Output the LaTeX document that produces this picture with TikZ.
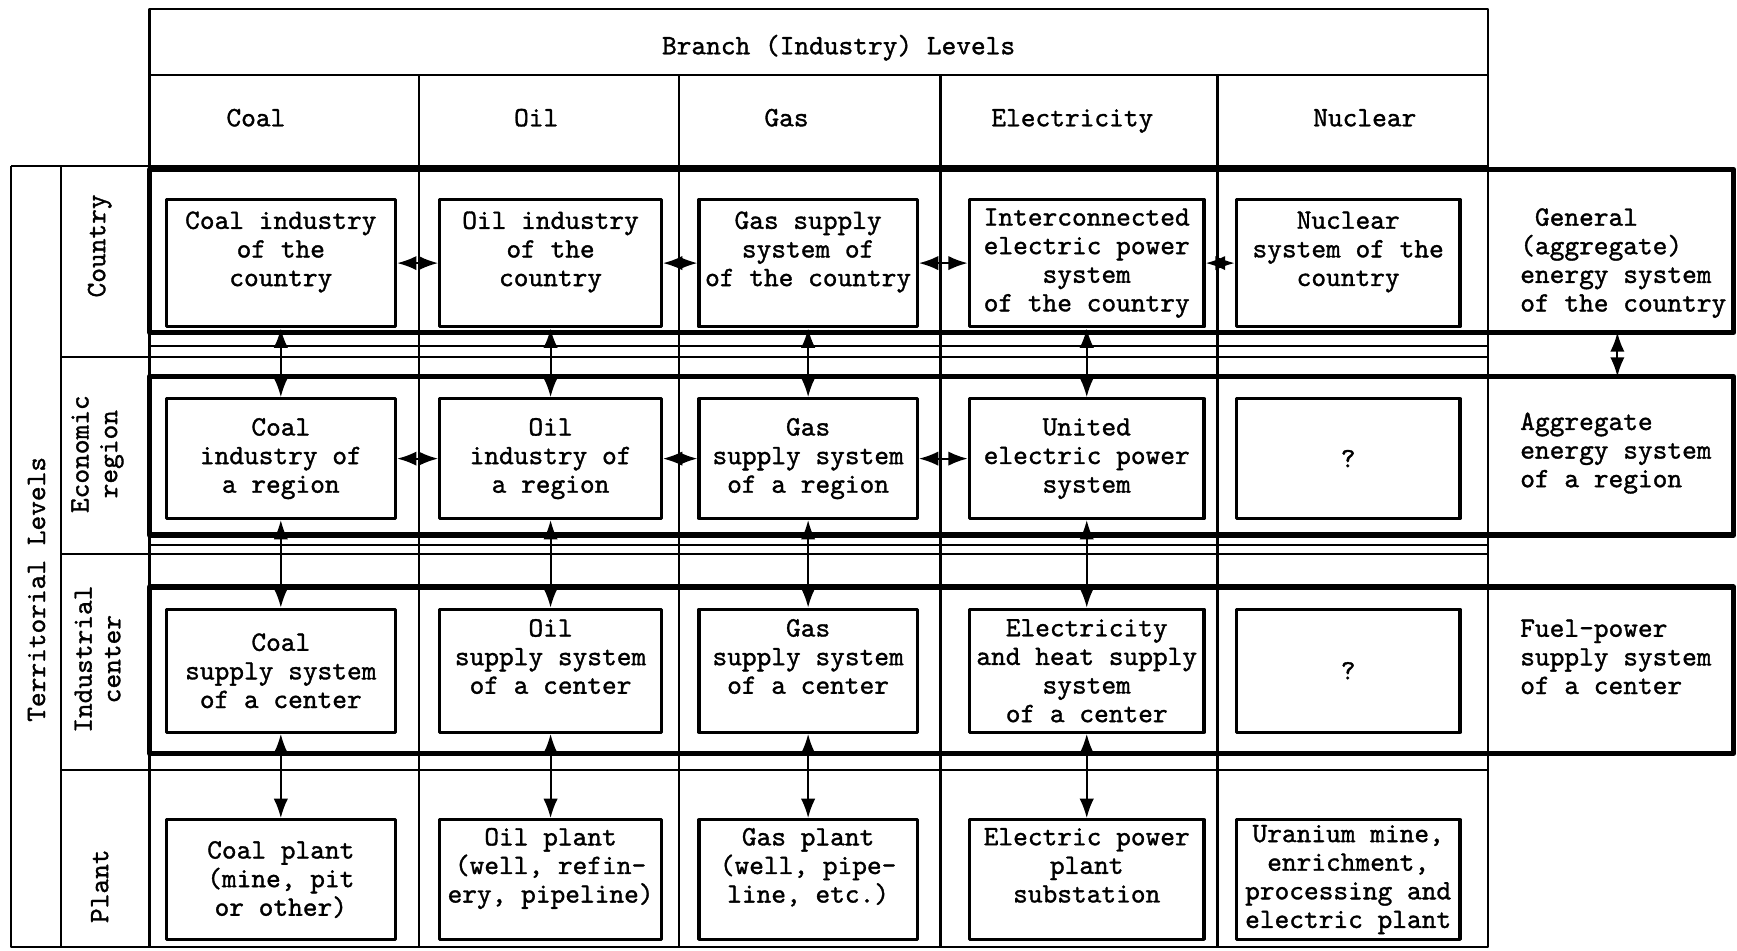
\documentclass[tikz,border=0pt]{standalone}
\usepackage{fontspec}
\setmonofont{lmmono10-regular.otf}[AutoFakeBold=1.2]
\usetikzlibrary{arrows.meta}
\begin{document}
\begin{tikzpicture}[x=0.02cm,y=-0.02cm,line join=round,>={Latex[length=3.5mm,width=2.6mm]},
		font={\fontsize{14.4}{14.7}\selectfont\ttfamily\bfseries},
		grid/.style={line width=1.1pt},
		band/.style={line width=2.8pt},
		cell/.style={draw,line width=1.7pt,align=center,inner sep=1pt},
		head/.style={anchor=base},
		side/.style={anchor=west,align=left,inner sep=0pt},
		link/.style={<->,line width=1.1pt}]
			\def\wCoal{4.14cm} % box widths
			\def\wOil{4cm}
			\def\wGas{3.94cm}
			\def\wEl{4.24cm}
			\def\wNuc{4.04cm}
			\def\hCountry{2.3cm} % box heights
			\def\hRegion{2.16cm}
			\def\hCenter{2.22cm}
			\def\hPlant{2.16cm}
			\useasboundingbox (0,0) rectangle (1568,858);
			% table lines
			\draw[grid] (135,8) rectangle (1343,855) (135,68)--(1343,68) (10,150)--(1343,150);
			\draw[grid] (10,150)--(10,855)--(135,855) (55,150)--(55,855);
			\foreach \x in {378,613,849,1099} \draw[grid] (\x,68)--(\x,855);
			\foreach \y in {322,500,695} \draw[grid] (55,\y)--(1343,\y);
			\draw[grid] (135,312)--(1343,312) (135,492)--(1343,492);
			% thick bands
			\draw[band] (135,153) rectangle (1565,300);
			\draw[band] (135,340) rectangle (1565,483);
			\draw[band] (135,530) rectangle (1565,680);
			% headings
			\node[head] (branch) at (757,49) {Branch (Industry) Levels};
			\node[head] (hCoal) at (231,114) {Coal};
			\node[head] (hOil) at (484,114) {Oil};
			\node[head] (hGas) at (710,114) {Gas};
			\node[head] (hEl) at (968,114) {Electricity};
			\node[head] (hNuc) at (1232,114) {Nuclear};
			\node[rotate=90] (terr) at (33,532) {Territorial Levels};
			\node[rotate=90] (lCountry) at (90,222) {Country};
			\node[rotate=90,align=center] (lRegion) at (88,410) {Economic\\region};
			\node[rotate=90,align=center] (lCenter) at (88,595) {Industrial\\center};
			\node[rotate=90] (lPlant) at (90,800) {Plant};
			% country
			\node[cell,minimum width=\wCoal,minimum height=\hCountry] (coalC) at (253.5,237.5) {Coal industry\\of the\\country\\~};
			\node[cell,minimum width=\wOil,minimum height=\hCountry] (oilC) at (497,237.5) {Oil industry\\of the\\country\\~};
			\node[cell,minimum width=\wGas,minimum height=\hCountry] (gasC) at (729.5,237.5) {Gas supply\\system of\\of the country\\~};
			\node[cell,minimum width=\wEl,minimum height=\hCountry] (elC) at (981,237.5) {Interconnected\\electric power\\system\\of the country};
			\node[cell,minimum width=\wNuc,minimum height=\hCountry] (nucC) at (1217,237.5) {Nuclear\\system of the\\country\\~};
			% economic region
			\node[cell,minimum width=\wCoal,minimum height=\hRegion] (coalR) at (253.5,414) {Coal\\industry of\\a region};
			\node[cell,minimum width=\wOil,minimum height=\hRegion] (oilR) at (497,414) {Oil\\industry of\\a region};
			\node[cell,minimum width=\wGas,minimum height=\hRegion] (gasR) at (729.5,414) {Gas\\supply system\\of a region};
			\node[cell,minimum width=\wEl,minimum height=\hRegion] (elR) at (981,414) {United\\electric power\\system};
			\node[cell,minimum width=\wNuc,minimum height=\hRegion] (nucR) at (1217,414) {?};
			% industrial center
			\node[cell,minimum width=\wCoal,minimum height=\hCenter] (coalI) at (253.5,605.5) {Coal\\supply system\\of a center};
			\node[cell,minimum width=\wOil,minimum height=\hCenter] (oilI) at (497,605.5) {Oil\\supply system\\of a center\\~};
			\node[cell,minimum width=\wGas,minimum height=\hCenter] (gasI) at (729.5,605.5) {Gas\\supply system\\of a center\\~};
			\node[cell,minimum width=\wEl,minimum height=\hCenter] (elI) at (981,605.5) {Electricity\\and heat supply\\system\\of a center};
			\node[cell,minimum width=\wNuc,minimum height=\hCenter] (nucI) at (1217,605.5) {?};
			% plant
			\node[cell,minimum width=\wCoal,minimum height=\hPlant] (coalP) at (253.5,794) {Coal plant\\(mine, pit\\or other)};
			\node[cell,minimum width=\wOil,minimum height=\hPlant] (oilP) at (497,794) {Oil plant\\(well, refin-\\ery, pipeline)\\~};
			\node[cell,minimum width=\wGas,minimum height=\hPlant] (gasP) at (729.5,794) {Gas plant\\(well, pipe-\\line, etc.)\\~};
			\node[cell,minimum width=\wEl,minimum height=\hPlant] (elP) at (981,794) {Electric power\\plant\\substation\\~};
			\node[cell,minimum width=\wNuc,minimum height=\hPlant] (nucP) at (1217,794) {Uranium mine,\\enrichment,\\processing and\\electric plant};
			% aggregate systems
			\node[side] (gen) at (1372,237.5) {~General\\(aggregate)\\energy system\\of the country};
			\node[side] (agg) at (1372,409) {Aggregate\\energy system\\of a region};
			\node[side] (fuel) at (1372,593) {Fuel-power\\supply system\\of a center};
			\coordinate (genS) at (1460,300);
			\coordinate (aggN) at (1460,340);
			% links
			\draw[link] (coalC.east)--(oilC.west);
			\draw[link] (oilC.east)--(gasC.west);
			\draw[link] (gasC.east)--(elC.west);
			\draw[link] (elC.east)--(nucC.west);
			\draw[link] (coalR.east)--(oilR.west);
			\draw[link] (oilR.east)--(gasR.west);
			\draw[link] (gasR.east)--(elR.west);
			\foreach \c in {coal,oil,gas,el}{
				\draw[link] (\c C.south)--(\c R.north);
				\draw[link] (\c R.south)--(\c I.north);
				\draw[link] (\c I.south)--(\c P.north);
			}
			\draw[link] (genS)--(aggN);
		\end{tikzpicture}
\end{document}
